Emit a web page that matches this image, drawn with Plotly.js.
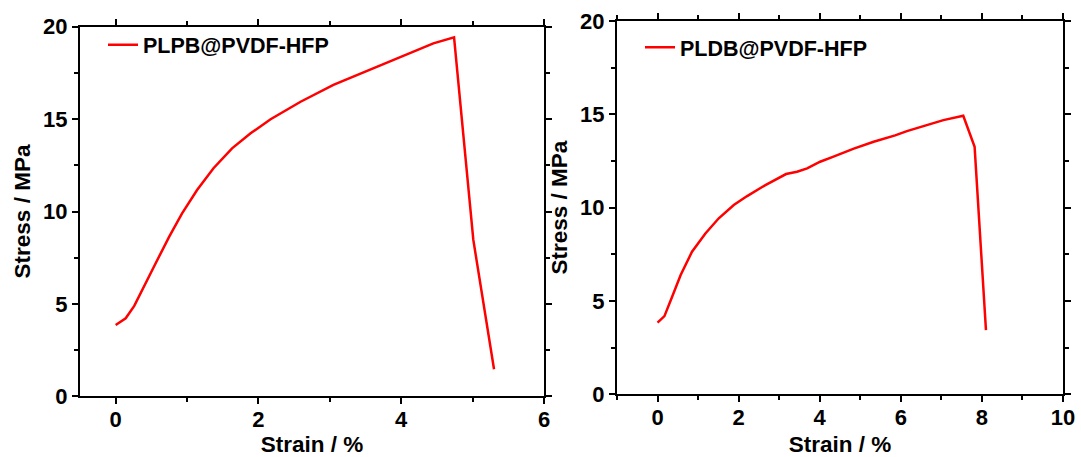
<!DOCTYPE html>
<html>
<head>
<meta charset="utf-8">
<script src="https://cdn.plot.ly/plotly-3.0.1.min.js"></script>
<style>html,body{margin:0;padding:0;background:#fff;}#chart{width:1081px;height:457px;}</style>
</head>
<body>
<div id="chart"></div>
<script>
// Left panel: PLPB@PVDF-HFP
const plpbName = "PLPB@PVDF-HFP";
const plpbStrain = [0.00, 0.14, 0.26, 0.40, 0.56, 0.75, 0.93, 1.14, 1.37, 1.63, 1.89, 2.17, 2.59, 3.05, 3.52, 3.99, 4.45, 4.74, 5.01, 5.30];
const plpbStress = [3.86, 4.22, 4.89, 5.93, 7.20, 8.64, 9.90, 11.16, 12.34, 13.42, 14.23, 14.99, 15.94, 16.85, 17.62, 18.38, 19.10, 19.42, 8.46, 1.46];

// Right panel: PLDB@PVDF-HFP
const pldbName = "PLDB@PVDF-HFP";
const pldbStrain = [0.00, 0.17, 0.36, 0.57, 0.85, 1.18, 1.51, 1.88, 2.21, 2.66, 3.17, 3.44, 3.69, 4.01, 4.34, 4.84, 5.33, 5.86, 6.15, 6.64, 7.05, 7.54, 7.82, 8.10];
const pldbStress = [3.84, 4.19, 5.23, 6.39, 7.64, 8.62, 9.43, 10.14, 10.62, 11.21, 11.80, 11.92, 12.10, 12.46, 12.73, 13.16, 13.53, 13.87, 14.10, 14.42, 14.69, 14.92, 13.26, 3.44];

const xTitle = "Strain / %";
const yTitle = "Stress / MPa";

const FONT = "Liberation Sans, Arial, Helvetica, sans-serif";
const W = 1081, H = 457;

function xaxisCfg(range, domain, anchor) {
  return {
    range: range, domain: domain, anchor: anchor,
    dtick: 2, tick0: 0,
    showgrid: false, zeroline: false,
    showline: true, linecolor: "#000", linewidth: 2,
    mirror: "ticks",
    ticks: "outside", ticklen: 6, tickwidth: 2, tickcolor: "#000",
    ticklabelstandoff: -4,
    minor: {dtick: 1, tick0: 0, ticks: "outside", ticklen: 4, tickwidth: 2, tickcolor: "#000", showgrid: false},
    tickfont: {family: FONT, size: 22, color: "#000", weight: "bold"},
    title: {text: xTitle, font: {family: FONT, size: 22.5, color: "#000", weight: "bold"}, standoff: 8},
    automargin: false, fixedrange: true
  };
}
function yaxisCfg(domain, anchor) {
  return {
    range: [0, 20], domain: domain, anchor: anchor,
    dtick: 5, tick0: 0,
    showgrid: false, zeroline: false,
    showline: true, linecolor: "#000", linewidth: 2,
    mirror: "ticks",
    ticks: "outside", ticklen: 6, tickwidth: 2, tickcolor: "#000",
    minor: {dtick: 2.5, tick0: 0, ticks: "outside", ticklen: 4, tickwidth: 2, tickcolor: "#000", showgrid: false},
    tickfont: {family: FONT, size: 22, color: "#000", weight: "bold"},
    title: {text: yTitle, font: {family: FONT, size: 22.5, color: "#000", weight: "bold"}, standoff: 6},
    automargin: false, fixedrange: true
  };
}

const traces = [
  {x: plpbStrain, y: plpbStress, name: plpbName, type: "scatter", mode: "lines",
   line: {color: "#ff0000", width: 2.5}, xaxis: "x", yaxis: "y", legend: "legend"},
  {x: pldbStrain, y: pldbStress, name: pldbName, type: "scatter", mode: "lines",
   line: {color: "#ff0000", width: 2.5}, xaxis: "x2", yaxis: "y2", legend: "legend2"}
];

const legendFont = {family: FONT, size: 21.5, color: "#000", weight: "bold"};
const layout = {
  width: W, height: H,
  margin: {l: 0, r: 0, t: 0, b: 0},
  paper_bgcolor: "#fff", plot_bgcolor: "#fff",
  showlegend: true,
  xaxis: xaxisCfg([-0.5, 6], [80 / W, 544 / W], "y"),
  yaxis: yaxisCfg([1 - 396.3 / H, 1 - 26.7 / H], "x"),
  xaxis2: xaxisCfg([-1, 10], [617 / W, 1063 / W], "y2"),
  yaxis2: yaxisCfg([1 - 394.3 / H, 1 - 21 / H], "x2"),
  legend: {x: 103 / W, y: 1 - 44.7 / H, xanchor: "left", yanchor: "middle",
           bgcolor: "rgba(0,0,0,0)", borderwidth: 0, font: legendFont, itemwidth: 30},
  legend2: {x: 640 / W, y: 1 - 47.3 / H, xanchor: "left", yanchor: "middle",
            bgcolor: "rgba(0,0,0,0)", borderwidth: 0, font: legendFont, itemwidth: 30}
};

Plotly.newPlot("chart", traces, layout, {displayModeBar: false, staticPlot: true});
</script>
</body>
</html>
